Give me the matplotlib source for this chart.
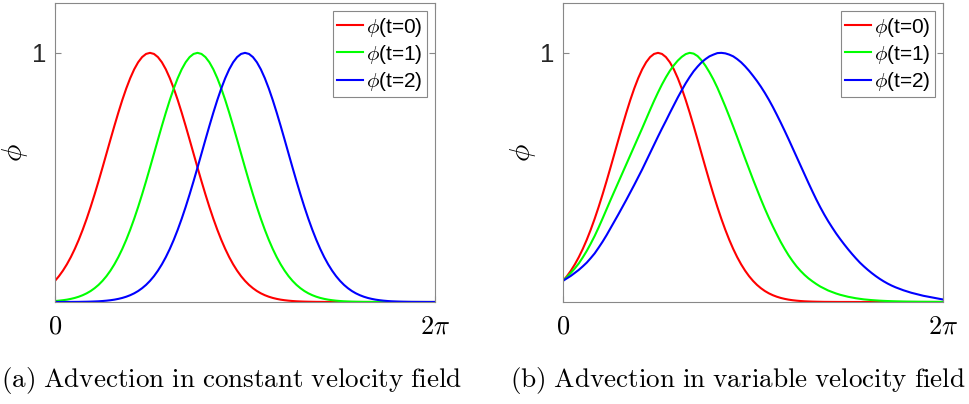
import numpy as np
import matplotlib.pyplot as plt

plt.rcParams['font.family'] = 'Liberation Sans'
plt.rcParams['mathtext.fontset'] = 'cm'

# 97 samples over [0, 2pi]
x = np.linspace(0, 2 * np.pi, 97)

# (a) constant velocity field
const_t0 = [0.0848, 0.1037, 0.1258, 0.1512, 0.1802, 0.2130, 0.2496, 0.2900, 0.3340, 0.3814,
            0.4319, 0.4848, 0.5396, 0.5955, 0.6516, 0.7068, 0.7602, 0.8107, 0.8571, 0.8984,
            0.9338, 0.9622, 0.9830, 0.9957, 1.0, 0.9957, 0.9830, 0.9622, 0.9338, 0.8984,
            0.8571, 0.8107, 0.7602, 0.7068, 0.6516, 0.5955, 0.5396, 0.4848, 0.4319, 0.3814,
            0.3340, 0.2900, 0.2496, 0.2130, 0.1802, 0.1512, 0.1258, 0.1037, 0.0848, 0.0687,
            0.0553, 0.0440, 0.0348, 0.0273, 0.0212, 0.0163, 0.0125, 0.0094, 0.0071, 0.0053,
            0.0039, 0.0028, 0.0021, 0.0015, 0.0011, 0.0008, 0.0005, 0.0004, 0.0003, 0.0002,
            0.0001, 0.0001, 0.0001, 0, 0, 0, 0, 0, 0, 0,
            0, 0, 0, 0, 0, 0, 0, 0, 0, 0,
            0, 0, 0, 0, 0, 0, 0]
const_t1 = [0.0039, 0.0053, 0.0071, 0.0094, 0.0125, 0.0163, 0.0212, 0.0273, 0.0348, 0.0440,
            0.0553, 0.0687, 0.0848, 0.1037, 0.1258, 0.1512, 0.1802, 0.2130, 0.2496, 0.2900,
            0.3340, 0.3814, 0.4319, 0.4848, 0.5396, 0.5955, 0.6516, 0.7068, 0.7602, 0.8107,
            0.8571, 0.8984, 0.9338, 0.9622, 0.9830, 0.9957, 1.0, 0.9957, 0.9830, 0.9622,
            0.9338, 0.8984, 0.8571, 0.8107, 0.7602, 0.7068, 0.6516, 0.5955, 0.5396, 0.4848,
            0.4319, 0.3814, 0.3340, 0.2900, 0.2496, 0.2130, 0.1802, 0.1512, 0.1258, 0.1037,
            0.0848, 0.0687, 0.0553, 0.0440, 0.0348, 0.0273, 0.0212, 0.0163, 0.0125, 0.0094,
            0.0071, 0.0053, 0.0039, 0.0028, 0.0021, 0.0015, 0.0011, 0.0008, 0.0005, 0.0004,
            0.0003, 0.0002, 0.0001, 0.0001, 0.0001, 0, 0, 0, 0, 0,
            0, 0, 0, 0, 0, 0, 0]
const_t2 = [0.0001, 0.0001, 0.0001, 0.0002, 0.0003, 0.0004, 0.0005, 0.0008, 0.0011, 0.0015,
            0.0021, 0.0028, 0.0039, 0.0053, 0.0071, 0.0094, 0.0125, 0.0163, 0.0212, 0.0273,
            0.0348, 0.0440, 0.0553, 0.0687, 0.0848, 0.1037, 0.1258, 0.1512, 0.1802, 0.2130,
            0.2496, 0.2900, 0.3340, 0.3814, 0.4319, 0.4848, 0.5396, 0.5955, 0.6516, 0.7068,
            0.7602, 0.8107, 0.8571, 0.8984, 0.9338, 0.9622, 0.9830, 0.9957, 1.0, 0.9957,
            0.9830, 0.9622, 0.9338, 0.8984, 0.8571, 0.8107, 0.7602, 0.7068, 0.6516, 0.5955,
            0.5396, 0.4848, 0.4319, 0.3814, 0.3340, 0.2900, 0.2496, 0.2130, 0.1802, 0.1512,
            0.1258, 0.1037, 0.0848, 0.0687, 0.0553, 0.0440, 0.0348, 0.0273, 0.0212, 0.0163,
            0.0125, 0.0094, 0.0071, 0.0053, 0.0039, 0.0028, 0.0021, 0.0015, 0.0011, 0.0008,
            0.0005, 0.0004, 0.0003, 0.0002, 0.0001, 0.0001, 0.0001]

# (b) variable velocity field, same initial profile
var_t0 = const_t0
var_t1 = [0.085, 0.100, 0.117, 0.135, 0.155, 0.179, 0.205, 0.234, 0.265, 0.299,
          0.335, 0.372, 0.409, 0.445, 0.481, 0.517, 0.553, 0.589, 0.625, 0.661,
          0.697, 0.734, 0.771, 0.807, 0.841, 0.873, 0.902, 0.928, 0.950, 0.969,
          0.984, 0.995, 1.0, 0.997, 0.987, 0.970, 0.948, 0.922, 0.893, 0.860,
          0.823, 0.785, 0.745, 0.704, 0.662, 0.619, 0.576, 0.534, 0.492, 0.452,
          0.412, 0.374, 0.338, 0.304, 0.272, 0.241, 0.213, 0.187, 0.164, 0.143,
          0.125, 0.109, 0.095, 0.083, 0.072, 0.062, 0.054, 0.046, 0.040, 0.034,
          0.029, 0.025, 0.021, 0.018, 0.015, 0.0127, 0.0105, 0.009, 0.0075, 0.0064,
          0.0053, 0.0045, 0.0038, 0.0032, 0.0027, 0.0023, 0.0019, 0.0016, 0.0014, 0.0012,
          0.001, 0.0009, 0.0008, 0.0007, 0.0006, 0.0005, 0.0005]
var_t2 = [0.085, 0.095, 0.105, 0.117, 0.129, 0.143, 0.158, 0.176, 0.195, 0.218,
          0.242, 0.268, 0.296, 0.324, 0.352, 0.381, 0.410, 0.440, 0.470, 0.501,
          0.532, 0.565, 0.598, 0.631, 0.664, 0.696, 0.727, 0.759, 0.790, 0.821,
          0.850, 0.878, 0.903, 0.926, 0.945, 0.962, 0.975, 0.986, 0.993, 0.999,
          1.0, 0.998, 0.993, 0.986, 0.975, 0.962, 0.946, 0.928, 0.908, 0.887,
          0.864, 0.839, 0.812, 0.783, 0.752, 0.720, 0.687, 0.653, 0.618, 0.583,
          0.548, 0.513, 0.478, 0.444, 0.411, 0.380, 0.351, 0.324, 0.299, 0.275,
          0.253, 0.232, 0.212, 0.193, 0.175, 0.158, 0.143, 0.129, 0.116, 0.104,
          0.093, 0.083, 0.074, 0.066, 0.059, 0.053, 0.047, 0.042, 0.037, 0.033,
          0.029, 0.025, 0.022, 0.019, 0.016, 0.013, 0.010]

labels = [r'$\phi$(t=0)', r'$\phi$(t=1)', r'$\phi$(t=2)']
colors = ['#ff0000', '#00ff00', '#0000ff']
captions = [r'$\mathrm{(a)\ Advection\ in\ constant\ velocity\ field}$',
            r'$\mathrm{(b)\ Advection\ in\ variable\ velocity\ field}$']

fig = plt.figure(figsize=(9.7, 4.04), dpi=100)
panels = [(0.0567, [const_t0, const_t1, const_t2]),
          (0.5804, [var_t0, var_t1, var_t2])]
caption_x = [0.239, 0.761]

for k, (left, curves) in enumerate(panels):
    ax = fig.add_axes([left, 0.2525, 0.3918, 0.740])
    for y, c, lab in zip(curves, colors, labels):
        ax.plot(x, y, color=c, lw=1.5, label=lab)
    ax.set_xlim(0, 2 * np.pi)
    ax.set_ylim(0, 1.2)
    ax.set_xticks([0, 2 * np.pi])
    ax.set_xticklabels([r'$0$', r'$2\pi$'], fontsize=19)
    ax.set_yticks([1])
    ax.set_yticklabels(['1'], fontsize=18.5, color='#262626')
    ax.tick_params(direction='in', length=4, width=0.8, color='#888888', top=True, right=True)
    ax.tick_params(axis='x', pad=9)
    ax.tick_params(axis='y', pad=6)
    for s in ax.spines.values():
        s.set_color('#888888')
        s.set_linewidth(0.8)
    ax.set_ylabel(r'$\phi$', fontsize=21, labelpad=2)
    leg = ax.legend(loc='upper right', fontsize=15, fancybox=False, framealpha=1,
                    handlelength=1.25, handletextpad=0.15, borderpad=0.2,
                    labelspacing=0.2, borderaxespad=0.4)
    leg.get_frame().set_edgecolor('#888888')
    leg.get_frame().set_linewidth(0.8)
    fig.text(caption_x[k], 0.057, captions[k], ha='center', va='center', fontsize=19.5)

fig.savefig('out.png', dpi=100)
